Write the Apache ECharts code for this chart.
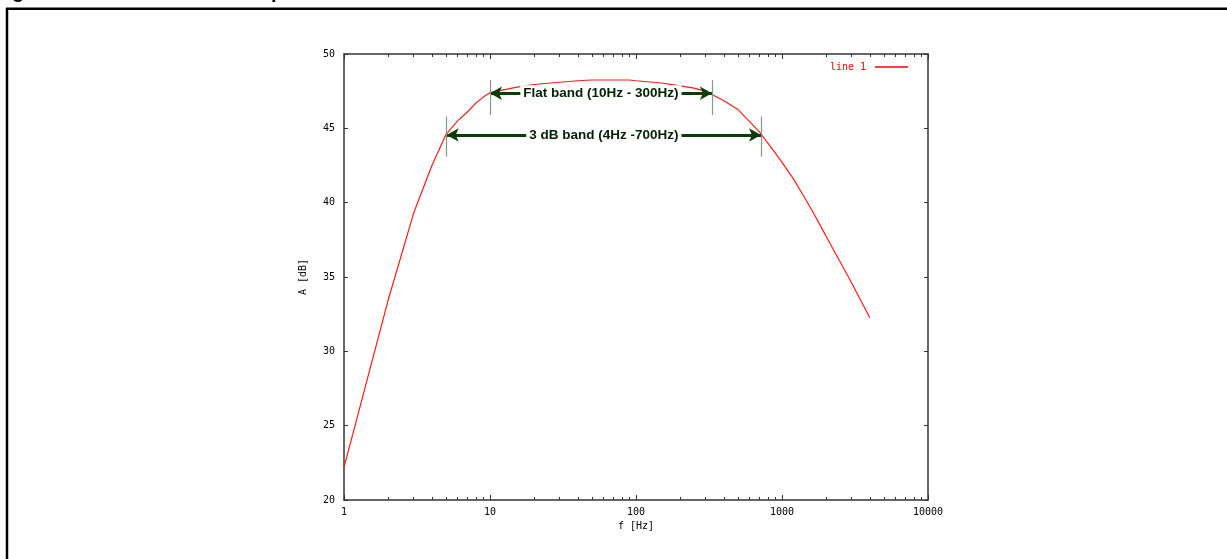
<!DOCTYPE html>
<html>
<head>
<meta charset="utf-8">
<script src="https://cdn.jsdelivr.net/npm/echarts@6/dist/echarts.min.js"></script>
<style>
html,body{margin:0;padding:0;background:#fff;}
#chart{width:1227px;height:559px;}
</style>
</head>
<body>
<div id="chart"></div>
<script>
// ---- data ----
var freq = [1,2,3,4,5,6,7,8,9,10,15,20,30,40,50,60,70,80,90,100,150,200,250,300,400,500,600,700,800,900,1000,1200,1400,1600,1800,2000,2500,3000,3500,4000];
var gain = [22.2,33.4,39.3,42.5,44.6,45.5,46.1,46.7,47.1,47.4,47.75,47.95,48.1,48.2,48.25,48.25,48.25,48.25,48.25,48.2,48.05,47.85,47.7,47.5,46.85,46.26,45.45,44.76,44.0,43.33,42.71,41.58,40.48,39.51,38.59,37.76,36.02,34.6,33.34,32.26];
var xMajorTicks = [1,10,100,1000,10000];
var xMinorTicks = [2,3,4,5,6,7,8,9,20,30,40,50,60,70,80,90,200,300,400,500,600,700,800,900,2000,3000,4000,5000,6000,7000,8000,9000];
var yTicks = [20,25,30,35,40,45,50];
// annotation bands: [start f, end f, level dB, marker low, marker high, label]
var flatBand = [10, 331, 47.36, 45.9, 48.25, 'Flat band (10Hz - 300Hz)'];
var dbBand = [5.05, 718, 44.55, 43.1, 45.8, '3 dB band (4Hz -700Hz)'];

var mono = 'DejaVu Sans Mono';
var axisColor = '#333';
var curveData = freq.map(function(f, i){ return [f, gain[i]]; });

function bandLines(b){
  var arrowStyle = {color:'#0b3a0b', width:3, type:'solid'};
  var markStyle = {color:'#7f9f7f', width:1.2, type:'solid'};
  return [
    [{coord:[b[0], b[2]], symbol:'arrow', symbolSize:[10,12], lineStyle:arrowStyle},
     {coord:[b[1], b[2]], symbol:'arrow', symbolSize:[10,12]}],
    [{coord:[b[0], b[3]], symbol:'none', lineStyle:markStyle},{coord:[b[0], b[4]], symbol:'none'}],
    [{coord:[b[1], b[3]], symbol:'none', lineStyle:markStyle},{coord:[b[1], b[4]], symbol:'none'}]
  ];
}
function mid(b){ return Math.sqrt(b[0]*b[1]); }
function plain(v){ return String(v); }

var grid = {left:344, right:299, top:54, bottom:59};
var chart = echarts.init(document.getElementById('chart'), null, {renderer:'canvas'});
chart.setOption({
  animation:false,
  backgroundColor:'#fff',
  grid:[grid, Object.assign({}, grid)],
  legend:{
    data:['line 1'], right:314, top:57, align:'right', icon:'rect',
    itemWidth:33, itemHeight:1.5, itemGap:0,
    textStyle:{color:'#ff0000', fontFamily:mono, fontSize:10, padding:[0,4,0,0]},
    selectedMode:false
  },
  xAxis:[
    {type:'log', logBase:10, min:1, max:10000, gridIndex:0, position:'bottom',
     name:'f [Hz]', nameLocation:'middle', nameGap:20,
     nameTextStyle:{fontFamily:mono, fontSize:10, color:'#000'},
     axisLine:{show:true, lineStyle:{color:axisColor, width:1.5}},
     axisTick:{show:true, inside:true, length:5, customValues:xMajorTicks, lineStyle:{color:axisColor}},
     axisLabel:{fontFamily:mono, fontSize:10, color:'#000', margin:7, customValues:xMajorTicks, formatter:plain},
     splitLine:{show:false}, minorTick:{show:false}},
    {type:'log', logBase:10, min:1, max:10000, gridIndex:0, position:'top',
     axisLine:{show:true, lineStyle:{color:axisColor, width:1.5}},
     axisTick:{show:true, inside:true, length:5, customValues:xMajorTicks, lineStyle:{color:axisColor}},
     axisLabel:{show:false}, splitLine:{show:false}},
    {type:'log', logBase:10, min:1, max:10000, gridIndex:1, position:'bottom',
     axisLine:{show:false},
     axisTick:{show:true, inside:true, length:3, customValues:xMinorTicks, lineStyle:{color:axisColor}},
     axisLabel:{show:false}, splitLine:{show:false}},
    {type:'log', logBase:10, min:1, max:10000, gridIndex:1, position:'top',
     axisLine:{show:false},
     axisTick:{show:true, inside:true, length:3, customValues:xMinorTicks, lineStyle:{color:axisColor}},
     axisLabel:{show:false}, splitLine:{show:false}}
  ],
  yAxis:[
    {type:'value', min:20, max:50, interval:5, gridIndex:0, position:'left',
     name:'A [dB]', nameLocation:'middle', nameGap:36, nameRotate:90,
     nameTextStyle:{fontFamily:mono, fontSize:10, color:'#000'},
     axisLine:{show:true, lineStyle:{color:axisColor, width:1.5}},
     axisTick:{show:true, inside:true, length:4, customValues:yTicks, lineStyle:{color:axisColor}},
     axisLabel:{fontFamily:mono, fontSize:10, color:'#000', margin:9, customValues:yTicks},
     splitLine:{show:false}},
    {type:'value', min:20, max:50, interval:5, gridIndex:0, position:'right',
     axisLine:{show:true, lineStyle:{color:axisColor, width:1.5}},
     axisTick:{show:true, inside:true, length:4, customValues:yTicks, lineStyle:{color:axisColor}},
     axisLabel:{show:false}, splitLine:{show:false}},
    {type:'value', min:20, max:50, gridIndex:1, show:false}
  ],
  series:[
    {name:'line 1', type:'line', xAxisIndex:0, yAxisIndex:0, data:curveData,
     showSymbol:false, symbol:'none', smooth:false,
     lineStyle:{color:'#ff1a1a', width:1.2}, itemStyle:{color:'#ff0000'},
     markLine:{silent:true, animation:false, label:{show:false},
       data: bandLines(flatBand).concat(bandLines(dbBand))},
     z:2},
    {name:'bands', type:'scatter', xAxisIndex:0, yAxisIndex:0, symbolSize:0, silent:true,
     itemStyle:{color:'#ffffff', opacity:1},
     data:[[mid(flatBand), flatBand[2], flatBand[5]],[mid(dbBand), dbBand[2], dbBand[5]]],
     label:{show:true, position:'inside', formatter:function(p){return p.data[2];},
       fontFamily:'Liberation Sans', fontWeight:'bold', fontSize:13.5, color:'#002200',
       opacity:1, textBorderWidth:0, textBorderColor:'transparent',
       backgroundColor:'#fff', padding:[1,3]},
     z:5}
  ],
  graphic:[
    {type:'line', shape:{x1:7, y1:8, x2:7, y2:559}, style:{stroke:'#000', lineWidth:2.5}},
    {type:'line', shape:{x1:6, y1:8.7, x2:1227, y2:8.7}, style:{stroke:'#000', lineWidth:2.5}},
    {type:'text', x:12, y:-8, style:{text:'g', font:'bold 20px Liberation Sans', fill:'#000', verticalAlign:'middle'}},
    {type:'text', x:271, y:-8, style:{text:'p', font:'bold 20px Liberation Sans', fill:'#000', verticalAlign:'middle'}}
  ]
});
</script>
</body>
</html>
